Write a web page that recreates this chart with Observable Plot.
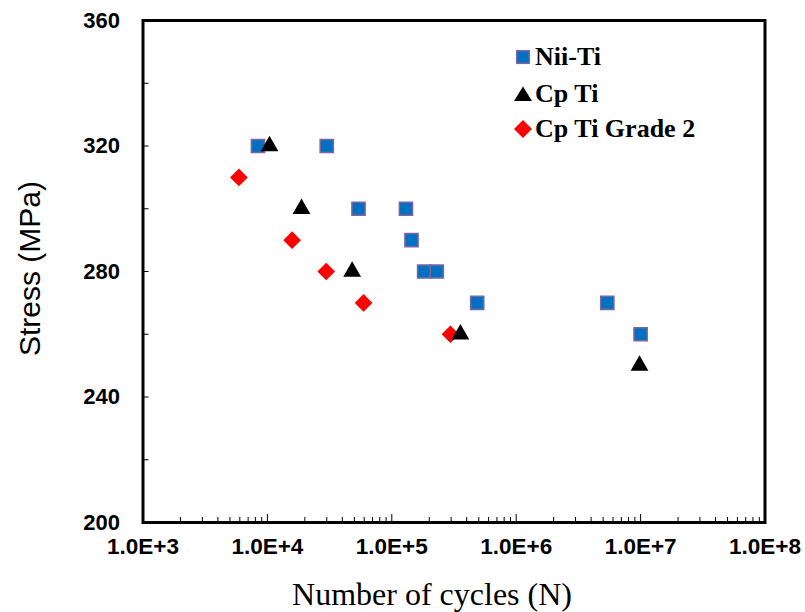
<!DOCTYPE html>
<html>
<head>
<meta charset="utf-8">
<script src="https://cdn.jsdelivr.net/npm/d3@7"></script>
<script src="https://cdn.jsdelivr.net/npm/@observablehq/plot@0.6"></script>
<style>
  html, body { margin: 0; padding: 0; background: #fff; }
  #wrap { position: relative; width: 805px; height: 612px; }
  #legend { position: absolute; left: 0; top: 0; }
</style>
</head>
<body>
<div id="wrap"></div>
<script>
// ---- data ----
const niiTiN = [8.4e3, 3.0e4, 5.4e4, 1.3e5, 1.44e5, 1.82e5, 2.3e5, 4.86e5, 5.4e6, 1.0e7];
const niiTiS = [320, 320, 300, 300, 290, 280, 280, 270, 270, 260];
const cpTiN = [1.04e4, 1.88e4, 4.8e4, 3.56e5, 9.8e6];
const cpTiS = [320, 300, 280, 260, 250];
const grade2N = [5.9e3, 1.58e4, 2.97e4, 5.93e4, 2.96e5];
const grade2S = [310, 290, 280, 270, 260];

const seriesNames = ["Nii-Ti", "Cp Ti", "Cp Ti Grade 2"];
const xMajorTicks = [1e3, 1e4, 1e5, 1e6, 1e7, 1e8];
const yLabelTicks = [200, 240, 280, 320, 360];
const yAllTicks = [220, 240, 260, 280, 300, 320, 340];
const xLabel = "Number of cycles (N)";
const yLabel = "Stress (MPa)";

// build tables
const nii = niiTiN.map((n, i) => ({n, s: niiTiS[i]}));
const cp = cpTiN.map((n, i) => ({n, s: cpTiS[i]}));
const g2 = grade2N.map((n, i) => ({n, s: grade2S[i]}));
const xMinor = [];
for (let e = 3; e < 8; e++) for (let k = 2; k <= 9; k++) xMinor.push(k * Math.pow(10, e));
const xMajorInner = xMajorTicks.slice(1, -1);

const sans = "'Liberation Sans', Arial, sans-serif";
const serif = "'Liberation Serif', 'Times New Roman', serif";

const W = 805, H = 612, ML = 142.5, MR = 40.5, MT = 20, MB = 90;
const frameW = W - ML - MR, frameH = H - MT - MB;

const chart = Plot.plot({
  width: W,
  height: H,
  marginLeft: ML,
  marginRight: MR,
  marginTop: MT,
  marginBottom: MB,
  style: {background: "#fff", overflow: "visible"},
  x: {type: "log", domain: [1e3, 1e8]},
  y: {domain: [200, 360]},
  marks: [
    Plot.axisX({
      ticks: xMajorTicks, tickSize: 0, tickPadding: 16,
      tickFormat: d => "1.0E+" + Math.round(Math.log10(d)),
      fontSize: 22.5, fontWeight: "bold", fontFamily: sans, fill: "#000", label: null
    }),
    Plot.axisY({
      ticks: yLabelTicks, tickSize: 0, tickPadding: 23,
      fontSize: 22, fontWeight: "bold", fontFamily: sans, fill: "#000", label: null
    }),
    Plot.tickX(xMinor, {x: d => d, insetTop: frameH - 5, stroke: "#000", strokeWidth: 1}),
    Plot.tickX(xMajorInner, {x: d => d, insetTop: frameH - 8, stroke: "#000", strokeWidth: 1}),
    Plot.tickY(yAllTicks, {y: d => d, insetRight: frameW - 6, stroke: "#000", strokeWidth: 1}),
    Plot.frame({stroke: "#000", strokeWidth: 3}),
    Plot.text([xLabel], {frameAnchor: "bottom", textAnchor: "middle", dx: -22, dy: 72, fontSize: 32, fontFamily: serif, fill: "#000", lineAnchor: "middle"}),
    Plot.text([yLabel], {frameAnchor: "left", textAnchor: "middle", lineAnchor: "middle", rotate: -90, dx: -113, dy: -3, fontSize: 30, fontFamily: sans, fill: "#000"}),
    Plot.dot(nii, {x: "n", y: "s", symbol: "square", r: 7.45, fill: "#0070C0", stroke: "#8064A2", strokeWidth: 1.5}),
    Plot.dot(g2, {x: "n", y: "s", symbol: "square", r: 7.06, rotate: 45, fill: "#FF0000", stroke: "none"}),
    Plot.dot(cp, {x: "n", y: "s", symbol: "triangle", r: 6.6, fill: "#000", stroke: "none"})
  ]
});

const wrap = document.getElementById("wrap");
wrap.appendChild(chart);

// legend overlay (inside plot area, top right)
const leg = d3.select(wrap).append("svg")
  .attr("id", "legend")
  .attr("width", W).attr("height", H)
  .style("pointer-events", "none");
const rows = [57, 94, 129];
const g = leg.selectAll("g").data(seriesNames).join("g")
  .attr("transform", (d, i) => `translate(523,${rows[i]})`);
g.filter((d, i) => i === 0).append("rect")
  .attr("x", -6.3).attr("y", -6.3).attr("width", 12.6).attr("height", 12.6)
  .attr("fill", "#0070C0").attr("stroke", "#8064A2").attr("stroke-width", 1.5);
g.filter((d, i) => i === 1).append("path")
  .attr("d", "M0,-7.5L9,7L-9,7Z").attr("fill", "#000");
g.filter((d, i) => i === 2).append("path")
  .attr("d", "M0,-9L9,0L0,9L-9,0Z").attr("fill", "#FF0000");
g.append("text")
  .attr("x", 12).attr("y", 7.5)
  .attr("font-family", serif).attr("font-weight", "bold").attr("font-size", 26)
  .attr("fill", "#000")
  .text(d => d);
</script>
</body>
</html>
